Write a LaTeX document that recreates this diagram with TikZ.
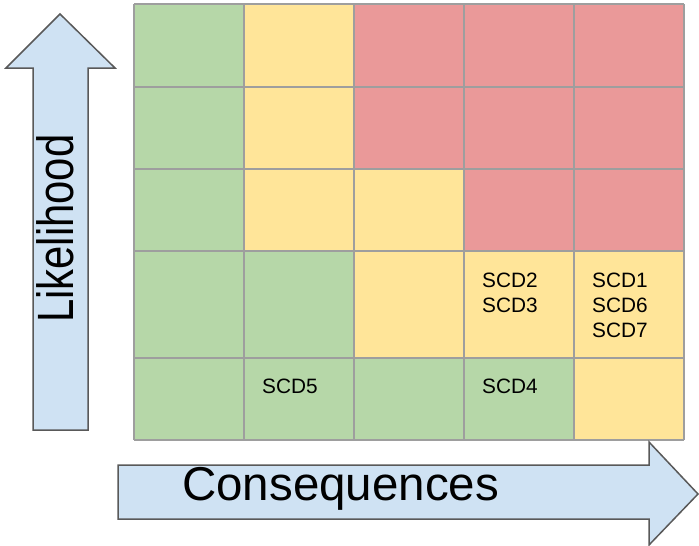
\documentclass[tikz,border=0pt]{standalone}
\usepackage{fontspec}
\setmainfont{Liberation Sans}
\definecolor{cg}{HTML}{B6D7A8}
\definecolor{cy}{HTML}{FFE599}
\definecolor{cr}{HTML}{EA9999}
\definecolor{cb}{HTML}{CFE2F3}
\definecolor{gridc}{HTML}{9E9E9E}
\definecolor{arrc}{HTML}{595959}
\begin{document}
\begin{tikzpicture}[x=1pt,y=-1pt,
  arrowshape/.style={fill=cb,draw=arrc,line width=1.5pt,line join=miter},
  gridline/.style={draw=gridc,line width=1.6pt},
  scd/.style={inner sep=0pt,anchor=base west,font=\fontsize{20.8}{25}\selectfont},
  big/.style={inner sep=0pt,anchor=base west,font=\fontsize{47.5}{56}\selectfont}]
\useasboundingbox (0,0) rectangle (699,546);
% row 1
\fill[cg] (134,4) rectangle (244,87);
\fill[cy] (244,4) rectangle (354,87);
\fill[cr] (354,4) rectangle (684,87);
% row 2
\fill[cg] (134,87) rectangle (244,169);
\fill[cy] (244,87) rectangle (354,169);
\fill[cr] (354,87) rectangle (684,169);
% row 3
\fill[cg] (134,169) rectangle (244,251);
\fill[cy] (244,169) rectangle (464,251);
\fill[cr] (464,169) rectangle (684,251);
% row 4
\fill[cg] (134,251) rectangle (354,358);
\fill[cy] (354,251) rectangle (684,358);
% row 5
\fill[cg] (134,358) rectangle (574,440);
\fill[cy] (574,358) rectangle (684,440);
% grid lines
\foreach \x in {134,244,354,464,574,684} \draw[gridline] (\x,4) -- (\x,440);
\foreach \y in {4,87,169,251,358,440} \draw[gridline] (134,\y) -- (684,\y);
% labels
\node[scd] (scd2) at (482,287) {SCD2};
\node[scd] (scd3) at (482,312) {SCD3};
\node[scd] (scd1) at (592,287) {SCD1};
\node[scd] (scd6) at (592,312) {SCD6};
\node[scd] (scd7) at (592,337) {SCD7};
\node[scd] (scd5) at (262,393) {SCD5};
\node[scd] (scd4) at (482,393) {SCD4};
% up arrow
\draw[arrowshape] (60,14) -- (115,68) -- (88,68) -- (88,430) -- (33,430) -- (33,68) -- (6,68) -- cycle;
\node[inner sep=0pt,anchor=base west,rotate=90,font=\fontsize{51}{60}\selectfont] (likelihood) at (73,323) {\scalebox{0.82}[1]{Likelihood}};
% right arrow
\draw[arrowshape] (118,465) -- (649,465) -- (649,442) -- (698,494) -- (649,545) -- (649,519) -- (118,519) -- cycle;
\node[big] (consequences) at (182,500) {Consequences};
\end{tikzpicture}
\end{document}
